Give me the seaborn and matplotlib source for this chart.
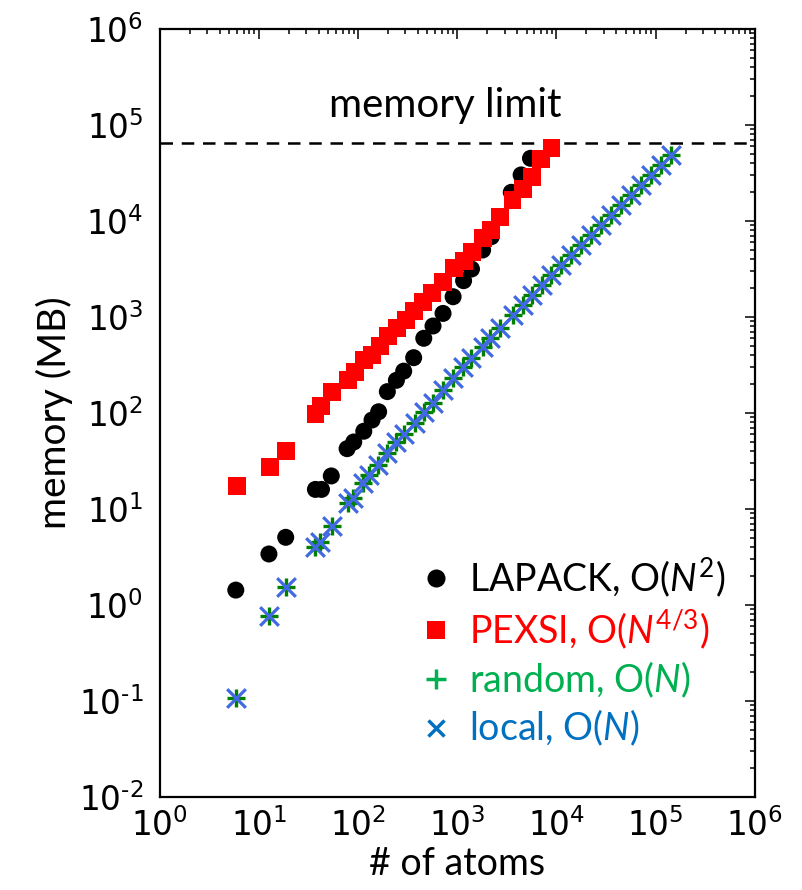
import numpy as np
import pandas as pd
import matplotlib
matplotlib.use("Agg")
import matplotlib.pyplot as plt
from matplotlib.ticker import LogLocator, FuncFormatter
from matplotlib.lines import Line2D
import seaborn as sns

# ---------------- data ----------------
lapack_n = [5.84, 12.6, 18.6, 37.1, 42.7, 53.6, 77.4, 90.3, 114, 138, 161, 197,
            243, 288, 363, 459, 569, 718, 907, 1157, 1390, 1800, 2200, 3500,
            4400, 5470]
lapack_mem = [1.43, 3.40, 5.07, 16.0, 16.0, 22.1, 42.5, 49.9, 64.6, 84.5, 103,
              167, 219, 273, 377, 600, 806, 1090, 1626, 2390, 3160, 4990, 6860,
              19900, 30200, 45000]

pexsi_n = [5.97, 12.8, 18.6, 37.1, 41.9, 54.2, 79.2, 93.8, 114, 138, 165, 200,
           245, 301, 365, 450, 560, 720, 918, 1157, 1410, 1800, 2200, 2700,
           3600, 4560, 5670, 7000, 8900]
pexsi_mem = [17.5, 27.6, 40.5, 97.7, 118, 165, 221, 269, 356, 402, 499, 634,
             762, 931, 1155, 1443, 1790, 2330, 3260, 3830, 4720, 6600, 8060,
             11100, 16500, 21500, 29000, 44200, 58000]

on_n = [5.84, 12.7, 18.6, 37.1, 41.0, 54.6, 79.0, 88.7, 112, 130, 158, 195, 243,
        288, 372, 459, 569, 718, 907, 1146, 1390, 1820, 2160, 2690, 3660, 4620,
        5700, 7200, 8900, 11200, 14000, 17700, 22300, 28000, 35200, 44500,
        56000, 70500, 88800, 112000, 144000]
on_mem = [0.107, 0.77, 1.53, 4.05, 4.57, 6.7, 11.5, 12.9, 18.6, 22.6, 28.7, 38,
          50, 61, 78, 103, 126, 174, 229, 302, 371, 490, 600, 760, 1045, 1334,
          1700, 2150, 2740, 3470, 4440, 5620, 7100, 9100, 11500, 14700, 18600,
          23700, 30000, 38000, 48700]

memory_limit = 65536

legend_labels = [r"LAPACK, O($N^{2}$)", r"PEXSI, O($N^{4/3}$)",
                 r"random, O($N$)", r"local, O($N$)"]

# ---------------- style ----------------
sns.set_style("white")
plt.rcParams["font.family"] = ["DejaVu Sans"]
plt.rcParams["mathtext.fontset"] = "custom"
plt.rcParams["mathtext.rm"] = "Lato"
plt.rcParams["mathtext.it"] = "Lato:italic"
plt.rcParams["axes.unicode_minus"] = False
plt.rcParams["text.color"] = "black"
plt.rcParams["axes.labelcolor"] = "black"
TXT = "Lato"


def pow10_label(v, pos):
    e = int(round(np.log10(v)))
    s = str(e).replace("-", "\u2010")
    return r"$\mathdefault{10^{%s}}$" % s


fig = plt.figure(figsize=(8.03, 8.90), dpi=100)
ax = fig.add_axes([0.199, 0.1045, 0.741, 0.8629])

df_lap = pd.DataFrame({"n": lapack_n, "mem": lapack_mem})
df_pex = pd.DataFrame({"n": pexsi_n, "mem": pexsi_mem})
df_on = pd.DataFrame({"n": on_n, "mem": on_mem})

sns.scatterplot(data=df_lap, x="n", y="mem", ax=ax, marker="o", s=150,
                color="black", edgecolor="none", linewidth=0, zorder=3)
sns.scatterplot(data=df_pex, x="n", y="mem", ax=ax, marker="s", s=165,
                color="#ff0000", edgecolor="none", linewidth=0, zorder=4)
sns.scatterplot(data=df_on, x="n", y="mem", ax=ax, marker="+", s=180,
                color="#008000", linewidth=2.4, zorder=5)
sns.scatterplot(data=df_on, x="n", y="mem", ax=ax, marker="x", s=180,
                color="#4169e1", linewidth=2.3, zorder=6)

ax.axhline(memory_limit, color="black", linestyle=(0, (5, 3.5)), linewidth=1.8,
           zorder=2)
ax.text(0.479, 0.901, "memory limit", transform=ax.transAxes, ha="center",
        va="center", fontsize=29, family=TXT, color="black")

ax.set_xscale("log")
ax.set_yscale("log")
ax.set_xlim(1, 1e6)
ax.set_ylim(1e-2, 1e6)
ax.xaxis.set_major_locator(LogLocator(base=10, numticks=20))
ax.yaxis.set_major_locator(LogLocator(base=10, numticks=20))
ax.xaxis.set_minor_locator(LogLocator(base=10, subs=np.arange(2, 10), numticks=200))
ax.yaxis.set_minor_locator(LogLocator(base=10, subs=np.arange(2, 10), numticks=200))
ax.xaxis.set_major_formatter(FuncFormatter(pow10_label))
ax.yaxis.set_major_formatter(FuncFormatter(pow10_label))
ax.tick_params(which="both", direction="in", top=True, right=True,
               labelsize=23.5, width=1.1, colors="black")
ax.tick_params(which="major", length=7)
ax.tick_params(which="minor", length=3.6)
ax.tick_params(axis="x", which="major", pad=8)
ax.tick_params(axis="y", which="major", pad=12)
for sp in ax.spines.values():
    sp.set_linewidth(1.6)
    sp.set_color("black")

ax.set_xlabel("# of atoms", fontsize=27, family=TXT, labelpad=2, color="black")
ax.set_ylabel("memory (MB)", fontsize=28, family=TXT, labelpad=4, color="black")

handles = [
    Line2D([], [], linestyle="none", marker="o", markersize=13, color="black",
           markeredgewidth=0),
    Line2D([], [], linestyle="none", marker="s", markersize=13, color="#ff0000",
           markeredgewidth=0),
    Line2D([], [], linestyle="none", marker="+", markersize=15, color="#00b050",
           markeredgewidth=2.5),
    Line2D([], [], linestyle="none", marker="x", markersize=12, color="#0070c0",
           markeredgewidth=2.5),
]
leg = ax.legend(handles, legend_labels, loc="center", bbox_to_anchor=(0.695, 0.189),
                frameon=False, prop={"family": TXT, "size": 27},
                labelcolor=["black", "#ff0000", "#00b050", "#0070c0"],
                handlelength=0.8, handletextpad=0.5, labelspacing=0.22,
                borderpad=0.2)

fig.savefig("out.png", dpi=100)
